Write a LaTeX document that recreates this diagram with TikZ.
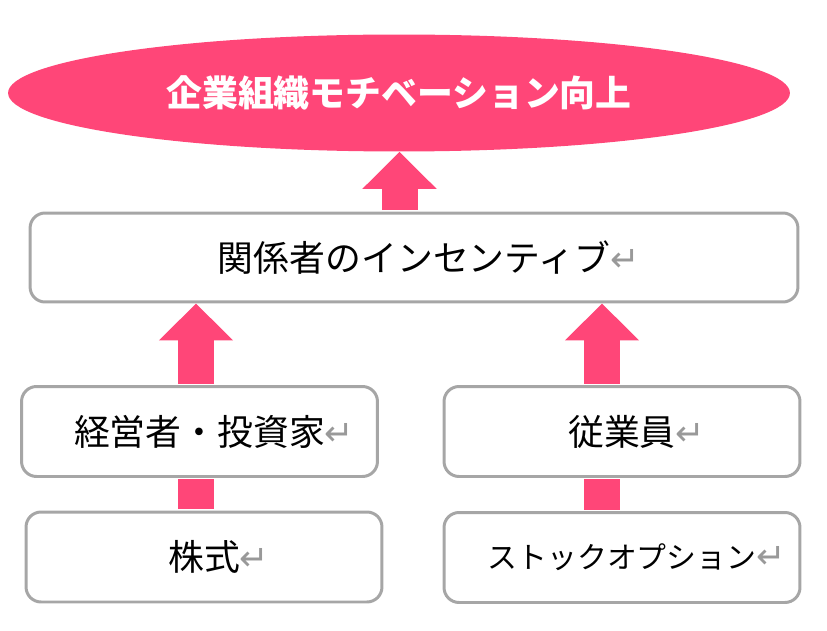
\documentclass[tikz,border=0pt]{standalone}
\usepackage{fontspec}
\setmainfont{Noto Sans CJK JP}
\newfontfamily\symfont{DejaVu Sans}
\usetikzlibrary{arrows.meta,shapes.geometric}
\definecolor{mypink}{HTML}{FF4678}
\definecolor{boxgray}{HTML}{A6A6A6}
\newcommand{\ret}{\rlap{\symfont\color{black!40}\fontsize{20}{20}\selectfont ↵}}
\begin{document}
\begin{tikzpicture}[x=0.02cm,y=-0.02cm,
  goal/.style={ellipse,fill=mypink,inner sep=0pt,minimum width=15.64cm,minimum height=2.34cm,
    text=white,font=\fontsize{20.4}{24}\selectfont\bfseries},
  card/.style={draw=boxgray,line width=1.7pt,rounded corners=0.3cm,fill=white,inner sep=0pt,
    minimum width=7.12cm,minimum height=1.8cm,font=\fontsize{20.4}{24}\selectfont},
  uparrow/.style={mypink,line width=0.72cm,shorten <=0.85pt,-{Triangle[width=1.44cm,length=0.74cm]}},
  joint/.style={mypink,line width=0.72cm,shorten <=0.85pt,shorten >=0.85pt}]
\useasboundingbox (0,0) rectangle (827,631);

\node[goal] (goal) at (399,93) {\raisebox{2.5pt}{企業組織モチベーション向上}};
\node[card,minimum width=15.36cm,minimum height=1.78cm] (inc) at (414,257.5) {関係者のインセンティブ\ret};
\node[card] (mgr) at (199.5,431.5) {経営者・投資家\ret};
\node[card] (emp) at (622,431.5) {従業員\ret};
\node[card] (stock) at (204,557) {株式\ret};
\node[card,font=\fontsize{17}{20}\selectfont] (opt) at (622,557.5) {ストックオプション\ret};

% block arrows
\coordinate (ccol) at (399.5,0);
\coordinate (lcol) at (196,0);
\coordinate (rcol) at (602,0);
\draw[uparrow] (inc.north -| ccol) -- (goal.south -| ccol);
\draw[uparrow] (mgr.north -| lcol) -- (inc.south -| lcol);
\draw[uparrow] (emp.north -| rcol) -- (inc.south -| rcol);
\draw[joint] (stock.north -| lcol) -- (mgr.south -| lcol);
\draw[joint] (opt.north -| rcol) -- (emp.south -| rcol);
\end{tikzpicture}
\end{document}
